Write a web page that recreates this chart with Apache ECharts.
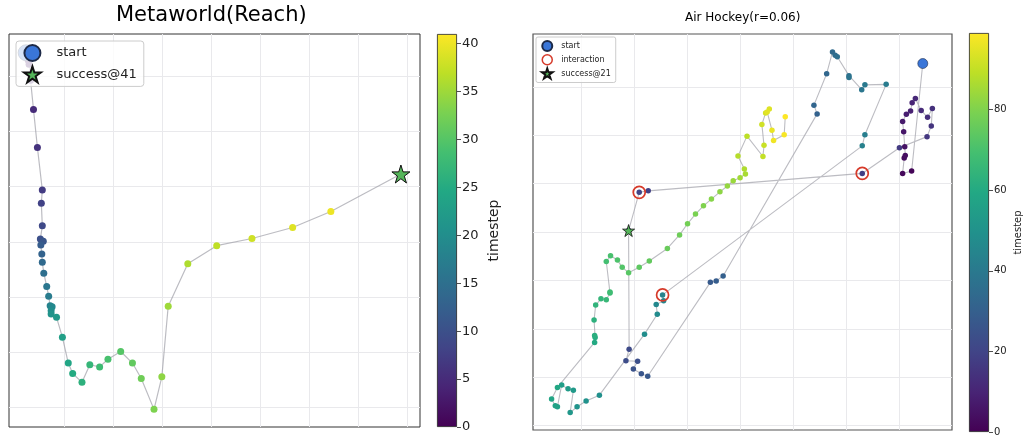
<!DOCTYPE html>
<html><head><meta charset="utf-8">
<script src="https://cdn.jsdelivr.net/npm/echarts@6/dist/echarts.min.js"></script>
<style>html,body{margin:0;padding:0;background:#fff}#c{width:1026px;height:438px}</style>
</head><body><div id="c"></div><script>
// ---------- data (grid units; timestep = index) ----------
const leftX = [0.23,0.26,0.27,0.29,0.32,0.38,0.46,0.56,0.54,0.56,0.52,0.58,0.53,0.55,0.56,0.59,0.65,0.69,0.72,0.76,0.74,0.74,0.85,0.97,1.09,1.18,1.37,1.53,1.73,1.90,2.16,2.40,2.58,2.84,3.00,3.13,3.53,4.12,4.84,5.67,6.45,7.88];
const leftY = [6.43,6.37,6.30,6.22,5.93,5.40,4.71,3.94,3.70,3.29,3.05,3.01,2.94,2.78,2.63,2.43,2.19,2.01,1.84,1.82,1.75,1.69,1.63,1.27,0.80,0.61,0.45,0.77,0.73,0.87,1.01,0.80,0.52,-0.04,0.55,1.83,2.60,2.93,3.06,3.26,3.55,4.23];
const leftSuccessStep = 41;

const rightX = [7.44,7.23,7.06,7.09,7.11,7.10,7.08,7.06,7.13,7.21,
  7.24,7.30,7.41,7.53,7.62,7.60,7.52,7.00,6.30,2.27,
  2.10,1.90,1.91,1.85,2.07,1.99,2.14,2.26,3.44,3.55,
  3.68,5.45,5.39,5.63,5.74,5.79,5.83,6.05,6.05,6.29,
  6.35,6.75,6.35,6.30,2.54,2.56,2.42,2.44,2.20,1.35,
  1.10,0.93,0.80,0.86,0.76,0.64,0.56,0.52,0.45,0.56,
  1.26,1.27,1.26,1.25,1.28,1.38,1.48,1.55,1.55,1.48,
  1.56,1.69,1.78,1.90,2.10,2.29,2.63,2.86,3.01,3.16,
  3.31,3.46,3.62,3.76,3.87,4.00,4.10,4.08,3.96,4.13,
  4.43,4.45,4.41,4.48,4.55,4.51,4.60,4.63,4.83,4.85];
const rightY = [7.48,5.26,5.21,5.53,5.58,5.76,6.07,6.28,6.43,6.50,
  6.67,6.76,6.51,6.37,6.55,6.19,5.97,5.74,5.21,4.85,
  4.82,4.03,1.58,1.34,1.33,1.17,1.07,1.02,2.96,2.99,
  3.09,6.44,6.62,7.27,7.72,7.65,7.62,7.23,7.19,6.94,
  7.04,7.05,6.01,5.78,2.70,2.58,2.50,2.30,1.89,0.63,
  0.51,0.39,0.27,0.73,0.76,0.84,0.39,0.41,0.55,0.79,
  1.72,1.82,1.86,2.18,2.49,2.62,2.60,2.74,2.76,3.39,
  3.51,3.42,3.27,3.16,3.27,3.40,3.66,3.94,4.17,4.37,
  4.54,4.68,4.83,4.95,5.06,5.12,5.20,5.30,5.57,5.98,
  5.56,5.79,6.22,6.46,6.54,6.48,6.10,5.89,6.01,6.38];
const rightSuccessStep = 21;
const rightInteractionSteps = [18, 20, 44];

const leftGridX = [1,2,3,4,5,6,7,8];
const leftGridY = [0,1,2,3,4,5,6];
const rightGridX = [1,2,3,4,5,6,7];
const rightGridY = [0,1,2,3,4,5,6,7];
const leftCbTicks = [0,5,10,15,20,25,30,35,40];
const rightCbTicks = [0,20,40,60,80];
const leftMaxStep = 41, rightMaxStep = 99;

const titles = ['Metaworld(Reach)', 'Air Hockey(r=0.06)'];
// --------------------------------------------------------

const viridis = ['#440154','#482475','#414487','#355f8d','#2a788e','#21918c','#22a884','#44bf70','#7ad151','#bddf26','#fde725'];
const starPath = 'path://M100,0 L122.45,69.1 L195.1,69.1 L136.3,111.8 L158.8,180.9 L100,138.2 L41.2,180.9 L63.7,111.8 L4.9,69.1 L77.55,69.1 Z';
const FONT = 'DejaVu Sans';
const lineCol = 'rgba(160,160,168,0.7)';
const blue = '#3a76d8', green = '#55b55a', red = '#d63a2a';

function grad() {
  return {type:'linear', x:0, y:1, x2:0, y2:0,
    colorStops: viridis.map((c,i)=>({offset:i/(viridis.length-1), color:c}))};
}
function plotAxis(grid, min, max, ticks) {
  return {gridIndex:grid, type:'value', min:min, max:max,
    axisLine:{show:false}, axisLabel:{show:false},
    axisTick:{show:false, customValues:ticks},
    splitLine:{show:true, lineStyle:{color:'#e9e9ec', width:1}}};
}
function cbY(grid, max, ticks, fs, nfs, gap) {
  return {gridIndex:grid, type:'value', position:'right', min:0, max:max,
    axisLine:{show:false},
    axisTick:{show:true, length:4, customValues:ticks, lineStyle:{color:'#222', width:0.8}},
    axisLabel:{show:true, customValues:ticks, fontSize:fs, color:'#222', margin:5, fontFamily:FONT},
    splitLine:{show:false},
    name:'timestep', nameLocation:'middle', nameRotate:90, nameGap:gap,
    nameTextStyle:{fontSize:nfs, color:'#222', fontFamily:FONT}};
}

const leftPts = leftX.map((x,i)=>[x, leftY[i], i]);
const rightPts = rightX.map((x,i)=>[x, rightY[i], i]);

const option = {
  animation:false,
  backgroundColor:'#fff',
  textStyle:{fontFamily:FONT},
  title:[
    {text:titles[0], left:116, top:5, padding:0, textStyle:{fontSize:21, fontWeight:'normal', color:'#000', fontFamily:FONT}},
    {text:titles[1], left:685, top:12, padding:0, textStyle:{fontSize:12, fontWeight:'normal', color:'#000', fontFamily:FONT}}
  ],
  grid:[
    {left:9, top:34, width:411, height:393, show:true, borderColor:'#333', borderWidth:1, backgroundColor:'transparent'},
    {left:437, top:34, width:20, height:393},
    {left:533, top:34, width:419, height:396, show:true, borderColor:'#555', borderWidth:1.2, backgroundColor:'transparent'},
    {left:969, top:33, width:20, height:399}
  ],
  xAxis:[
    plotAxis(0, -0.12, 8.27, leftGridX),
    {gridIndex:1, type:'category', data:['cb'], show:false},
    plotAxis(2, 0.10, 7.99, rightGridX),
    {gridIndex:3, type:'category', data:['cb'], show:false}
  ],
  yAxis:[
    plotAxis(0, -0.36, 6.77, leftGridY),
    cbY(1, leftMaxStep, leftCbTicks, 13, 14, 30),
    plotAxis(2, -0.09, 8.09, rightGridY),
    cbY(3, rightMaxStep, rightCbTicks, 10, 10, 24)
  ],
  visualMap:[
    {type:'continuous', show:false, min:0, max:leftMaxStep, dimension:2, seriesIndex:1, inRange:{color:viridis}},
    {type:'continuous', show:false, min:0, max:rightMaxStep, dimension:2, seriesIndex:6, inRange:{color:viridis}}
  ],
  legend:[
    {data:[{name:'start', icon:'circle'}, {name:'success@41', icon:starPath}],
     orient:'vertical', left:16, top:41, itemWidth:20, itemHeight:16, itemGap:3.4,
     padding:[3,7,3,7], backgroundColor:'rgba(255,255,255,0.8)', borderColor:'#cccccc', borderWidth:1, borderRadius:3,
     textStyle:{fontSize:13, color:'#222', fontFamily:FONT, padding:[0,0,0,9]}, selectedMode:false, z:10},
    {data:[{name:'start', icon:'circle'},
           {name:'interaction', icon:'circle', itemStyle:{color:'rgba(0,0,0,0)', borderColor:red, borderWidth:1.5}},
           {name:'success@21', icon:starPath}],
     orient:'vertical', left:536, top:37, itemWidth:14, itemHeight:10, itemGap:2,
     padding:[3,5,3,5], backgroundColor:'rgba(255,255,255,0.8)', borderColor:'#cccccc', borderWidth:1, borderRadius:2,
     textStyle:{fontSize:8, color:'#222', fontFamily:FONT, padding:[0,0,0,2]}, selectedMode:false, z:10}
  ],
  series:[
    {type:'line', name:'traj-l', xAxisIndex:0, yAxisIndex:0, data:leftPts.map(p=>[p[0],p[1]]), showSymbol:false, symbol:'none',
     lineStyle:{color:lineCol, width:1.2}, silent:true, z:1},
    {type:'scatter', name:'dots-l', xAxisIndex:0, yAxisIndex:0, data:leftPts, symbolSize:7, itemStyle:{opacity:1}, z:2},
    {type:'scatter', name:'start', xAxisIndex:0, yAxisIndex:0, data:[[leftX[0], leftY[0]]], symbol:'circle', symbolSize:16,
     itemStyle:{color:blue, borderColor:'#1d2a48', borderWidth:0.8, opacity:1}, z:3},
    {type:'scatter', name:'success@41', xAxisIndex:0, yAxisIndex:0, data:[[leftX[leftSuccessStep], leftY[leftSuccessStep]]],
     symbol:starPath, symbolSize:18, itemStyle:{color:green, borderColor:'#111', borderWidth:1, opacity:1}, z:3},
    {type:'bar', name:'cb-l', xAxisIndex:1, yAxisIndex:1, data:[leftMaxStep], barWidth:'100%', silent:true,
     itemStyle:{color:grad(), borderColor:'#222', borderWidth:0.8}},

    {type:'line', name:'traj-r', xAxisIndex:2, yAxisIndex:2, data:rightPts.map(p=>[p[0],p[1]]), showSymbol:false, symbol:'none',
     lineStyle:{color:lineCol, width:1.1}, silent:true, z:1},
    {type:'scatter', name:'dots-r', xAxisIndex:2, yAxisIndex:2, data:rightPts, symbolSize:5.5, itemStyle:{opacity:1}, z:2},
    {type:'scatter', name:'interaction', xAxisIndex:2, yAxisIndex:2,
     data:rightInteractionSteps.map(i=>[rightX[i], rightY[i]]), symbol:'circle', symbolSize:12,
     itemStyle:{color:'rgba(0,0,0,0)', borderColor:red, borderWidth:1.7, opacity:1}, z:3},
    {type:'scatter', name:'start', xAxisIndex:2, yAxisIndex:2, data:[[rightX[0], rightY[0]]], symbol:'circle', symbolSize:10,
     itemStyle:{color:blue, borderColor:'#1d2a48', borderWidth:0.6, opacity:1}, z:3},
    {type:'scatter', name:'success@21', xAxisIndex:2, yAxisIndex:2, data:[[rightX[rightSuccessStep], rightY[rightSuccessStep]]],
     symbol:starPath, symbolSize:12, itemStyle:{color:green, borderColor:'#111', borderWidth:0.8, opacity:1}, z:3},
    {type:'bar', name:'cb-r', xAxisIndex:3, yAxisIndex:3, data:[rightMaxStep], barWidth:'100%', silent:true,
     itemStyle:{color:grad(), borderColor:'#222', borderWidth:0.8}}
  ]
};
const chart = echarts.init(document.getElementById('c'), null, {renderer:'canvas'});
chart.setOption(option);
</script></body></html>
